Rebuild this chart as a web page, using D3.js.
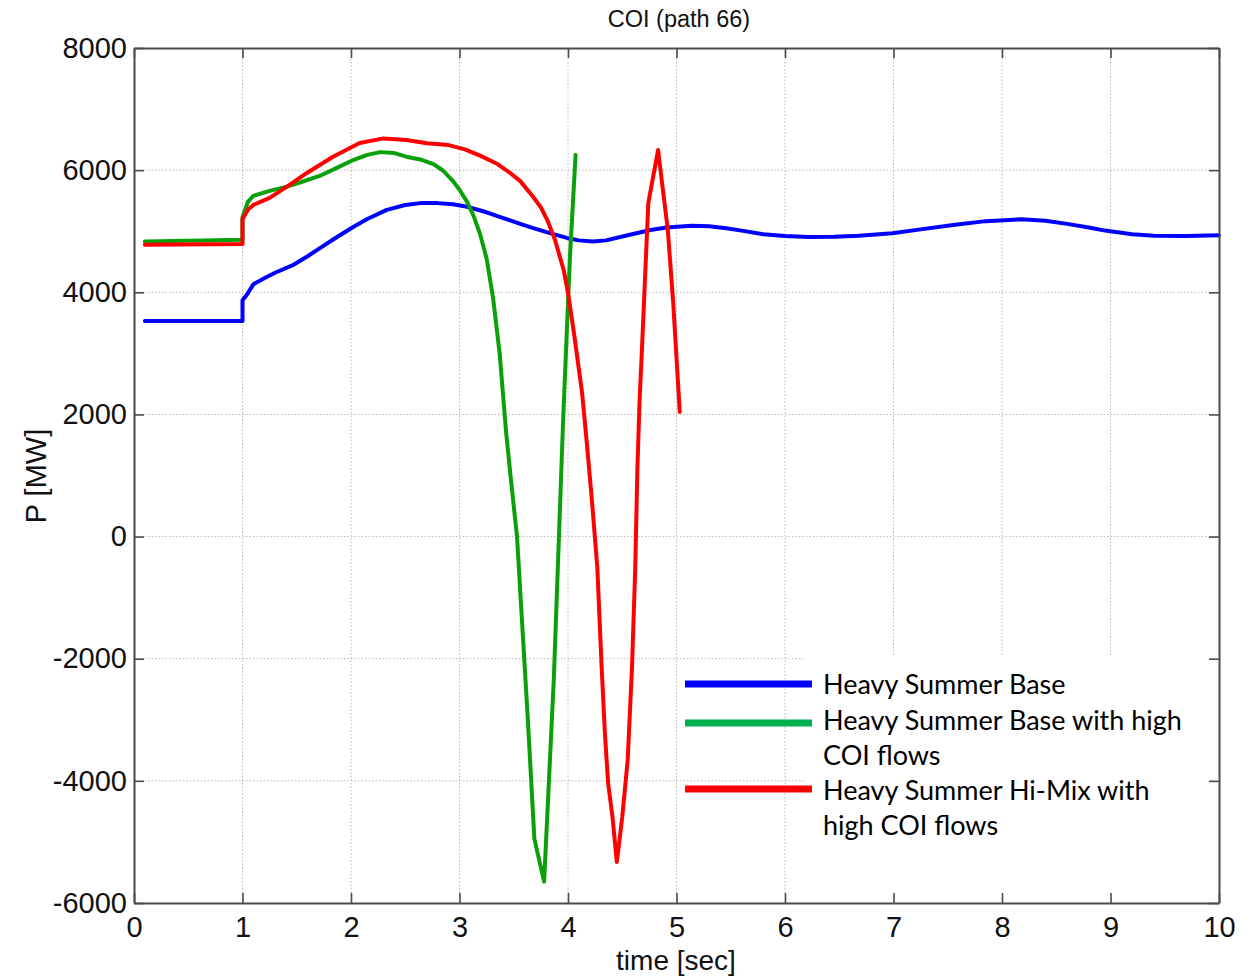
<!DOCTYPE html>
<html>
<head>
<meta charset="utf-8">
<script src="https://cdn.jsdelivr.net/npm/d3@7"></script>
<style>
  html, body { margin: 0; padding: 0; background: #fff; }
  svg { display: block; }
</style>
</head>
<body>
<svg id="chart" width="1244" height="978"></svg>
<script>
// Time ticks and power ticks
const xTicks = [0, 1, 2, 3, 4, 5, 6, 7, 8, 9, 10];
const yTicks = [-6000, -4000, -2000, 0, 2000, 4000, 6000, 8000];

// Series: [time (s), P (MW)]
const heavySummerBase = [
  [0.1, 3530], [1.0, 3530], [1.0, 3870], [1.04, 3960], [1.1, 4130], [1.2, 4230],
  [1.3, 4320], [1.47, 4450], [1.6, 4590], [1.71, 4720], [1.85, 4880], [2.02, 5070],
  [2.15, 5200], [2.33, 5350], [2.5, 5430], [2.64, 5460], [2.8, 5460], [2.94, 5440],
  [3.07, 5400], [3.25, 5310], [3.37, 5235], [3.56, 5120], [3.68, 5050], [3.85, 4960],
  [3.99, 4890], [4.1, 4850], [4.23, 4830], [4.35, 4850], [4.54, 4930], [4.76, 5020],
  [4.91, 5060], [5.14, 5090], [5.3, 5080], [5.46, 5050], [5.6, 5010], [5.8, 4950],
  [6.0, 4920], [6.22, 4905], [6.45, 4910], [6.68, 4925], [6.99, 4965], [7.25, 5030],
  [7.55, 5100], [7.85, 5165], [8.18, 5195], [8.4, 5170], [8.6, 5120], [8.8, 5060],
  [8.95, 5010], [9.2, 4950], [9.4, 4925], [9.7, 4920], [10.0, 4935]
];

const baseHighCOI = [
  [0.1, 4830], [0.5, 4845], [1.0, 4860], [1.0, 5230], [1.05, 5480], [1.1, 5580],
  [1.25, 5660], [1.41, 5730], [1.55, 5810], [1.71, 5905], [1.85, 6020], [2.02, 6165],
  [2.15, 6250], [2.27, 6295], [2.4, 6280], [2.51, 6220], [2.65, 6170], [2.76, 6100],
  [2.85, 5990], [2.94, 5820], [3.0, 5680], [3.07, 5480], [3.13, 5250], [3.19, 4950],
  [3.25, 4550], [3.31, 3900], [3.37, 3000], [3.43, 1700], [3.47, 1000], [3.53, 0],
  [3.58, -1500], [3.63, -3000], [3.69, -4950], [3.78, -5650], [3.87, -2300],
  [3.955, 1900], [3.99, 3400], [4.02, 4650], [4.045, 5450], [4.07, 6250]
];

const hiMixHighCOI = [
  [0.1, 4780], [1.0, 4790], [1.0, 5200], [1.05, 5350], [1.1, 5430], [1.25, 5545],
  [1.41, 5730], [1.59, 5950], [1.83, 6215], [2.08, 6445], [2.3, 6520], [2.51, 6495],
  [2.7, 6440], [2.9, 6410], [3.05, 6340], [3.2, 6230], [3.35, 6100], [3.47, 5950],
  [3.56, 5820], [3.68, 5560], [3.75, 5390], [3.81, 5180], [3.88, 4860], [3.96, 4365],
  [4.0, 3990], [4.06, 3270], [4.13, 2350], [4.17, 1600], [4.22, 600], [4.27, -500],
  [4.31, -2140], [4.34, -3220], [4.37, -4040], [4.41, -4590], [4.45, -5330],
  [4.5, -4590], [4.55, -3660], [4.59, -2140], [4.62, -500], [4.64, 1140], [4.66, 2240],
  [4.68, 3000], [4.74, 5460], [4.83, 6330], [4.92, 5020], [4.97, 3820], [5.03, 2040]
];

const seriesNames = [
  ["Heavy Summer Base"],
  ["Heavy Summer Base with high", "COI flows"],
  ["Heavy Summer Hi-Mix with", "high COI flows"]
];
const seriesColors = ["#0000ff", "#0aa00a", "#ff0000"];
const legendColors = ["#0000ff", "#00b050", "#ff0000"];
const seriesData = [heavySummerBase, baseHighCOI, hiMixHighCOI];

const svg = d3.select("#chart");
const plotLeft = 134, plotRight = 1219, plotTop = 48, plotBottom = 903;

const x = d3.scaleLinear().domain([0, 10]).range([plotLeft, plotRight]);
const y = d3.scaleLinear().domain([-6000, 8000]).range([plotBottom, plotTop]);

const axisFont = "'Liberation Sans', Arial, sans-serif";

// Dotted grid
const grid = svg.append("g").attr("stroke", "#b8b8b8").attr("stroke-width", 1)
  .attr("stroke-dasharray", "1.5,2");
grid.selectAll("line.v").data(xTicks.slice(1, -1)).join("line").attr("class", "v")
  .attr("x1", d => x(d)).attr("x2", d => x(d)).attr("y1", plotTop).attr("y2", plotBottom);
grid.selectAll("line.h").data(yTicks.slice(1, -1)).join("line").attr("class", "h")
  .attr("y1", d => y(d)).attr("y2", d => y(d)).attr("x1", plotLeft).attr("x2", plotRight);

// Legend backing box
const legendBoxX = 805, legendBoxY = y(-2000) - 3;
svg.append("rect")
  .attr("x", legendBoxX).attr("y", legendBoxY)
  .attr("width", plotRight - legendBoxX).attr("height", plotBottom - legendBoxY)
  .attr("fill", "#fff");

// Series lines
const line = d3.line().x(d => x(d[0])).y(d => y(d[1])).curve(d3.curveLinear);
svg.append("g").selectAll("path").data(seriesData).join("path")
  .attr("d", line)
  .attr("fill", "none")
  .attr("stroke", (d, i) => seriesColors[i])
  .attr("stroke-width", 4)
  .attr("stroke-linejoin", "round")
  .attr("stroke-linecap", "round");

// Axes box with inward ticks on all four sides
const axisColor = "#4a4a4a";
const tickLen = 10;
const plain = d => String(d);
const ax = svg.append("g");
ax.append("g").attr("transform", `translate(0,${plotBottom})`)
  .call(d3.axisBottom(x).tickValues(xTicks).tickFormat(plain)
    .tickSizeInner(-tickLen).tickSizeOuter(0).tickPadding(13));
ax.append("g").attr("transform", `translate(0,${plotTop})`)
  .call(d3.axisTop(x).tickValues(xTicks).tickSizeInner(-tickLen).tickSizeOuter(0).tickFormat(""));
ax.append("g").attr("transform", `translate(${plotLeft},0)`)
  .call(d3.axisLeft(y).tickValues(yTicks).tickFormat(plain)
    .tickSizeInner(-tickLen).tickSizeOuter(0).tickPadding(7));
ax.append("g").attr("transform", `translate(${plotRight},0)`)
  .call(d3.axisRight(y).tickValues(yTicks).tickSizeInner(-tickLen).tickSizeOuter(0).tickFormat(""));
ax.selectAll(".domain").attr("stroke", axisColor).attr("stroke-width", 2);
ax.selectAll(".tick line").attr("stroke", axisColor).attr("stroke-width", 1.6);
ax.selectAll(".tick text")
  .attr("fill", "#111")
  .style("font-family", axisFont)
  .style("font-size", "29px");

// Title and axis labels
svg.append("text")
  .attr("x", 679).attr("y", 27)
  .attr("text-anchor", "middle")
  .style("font-family", axisFont).style("font-size", "23.5px").attr("fill", "#111")
  .text("COI (path 66)");
svg.append("text")
  .attr("x", 676).attr("y", 970)
  .attr("text-anchor", "middle")
  .style("font-family", axisFont).style("font-size", "28px").attr("fill", "#111")
  .text("time [sec]");
svg.append("text")
  .attr("transform", "translate(46,476) rotate(-90)")
  .attr("text-anchor", "middle")
  .style("font-family", axisFont).style("font-size", "29px").attr("fill", "#111")
  .text("P [MW]");

// Legend
const legendSwatchY = [684, 723, 789];
const legendTextY = [[694], [730, 765], [800, 835]];
const leg = svg.append("g");
seriesNames.forEach((lines, i) => {
  leg.append("line")
    .attr("x1", 685).attr("x2", 812)
    .attr("y1", legendSwatchY[i]).attr("y2", legendSwatchY[i])
    .attr("stroke", legendColors[i]).attr("stroke-width", 7);
  lines.forEach((txt, j) => {
    leg.append("text")
      .attr("x", 823).attr("y", legendTextY[i][j])
      .style("font-family", "Lato, 'Open Sans', sans-serif")
      .style("font-size", "27px").attr("fill", "#000")
      .text(txt);
  });
});
</script>
</body>
</html>
